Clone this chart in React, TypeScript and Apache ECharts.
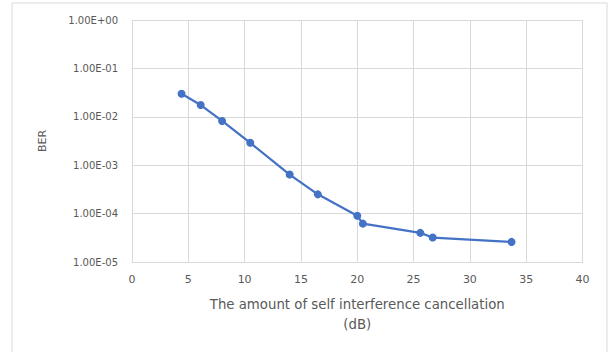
import React, { useEffect, useRef } from "react";
import * as echarts from "echarts";

const cancellationDb: number[] = [4.4, 6.1, 8, 10.5, 14, 16.5, 20, 20.5, 25.6, 26.7, 33.7];
const berValues: number[] = [0.03, 0.0175, 0.0082, 0.0029, 0.00064, 0.00025, 0.00009, 0.000062, 0.00004, 0.000032, 0.000026];
const yTickLabels: string[] = ["1.00E-05", "1.00E-04", "1.00E-03", "1.00E-02", "1.00E-01", "1.00E+00"];
const xAxisTitle = "The amount of self interference cancellation\n(dB)";
const yAxisTitle = "BER";

export default function App() {
  const ref = useRef<HTMLDivElement>(null);
  useEffect(() => {
    if (!ref.current) return;
    const chart = echarts.init(ref.current, undefined, { renderer: "svg" });
    const font = "'DejaVu Sans', 'Open Sans', sans-serif";
    const textColor = "#595959";
    const gridColor = "#d9d9d9";
    chart.setOption({
      animation: false,
      backgroundColor: "#ffffff",
      graphic: [
        {
          type: "rect",
          shape: { x: 12, y: 3, width: 595, height: 360 },
          style: { fill: "none", stroke: "#d9d9d9", lineWidth: 1 },
          silent: true,
        },
      ],
      grid: { left: 132, right: 25.5, top: 20, bottom: 90, containLabel: false },
      xAxis: {
        type: "value",
        min: 0,
        max: 40,
        interval: 5,
        name: xAxisTitle,
        nameLocation: "middle",
        nameGap: 32,
        nameTextStyle: { color: textColor, fontFamily: font, fontSize: 13.3, lineHeight: 20 },
        axisLine: { show: true, lineStyle: { color: gridColor, width: 1 } },
        axisTick: { show: false },
        axisLabel: { color: textColor, fontFamily: font, fontSize: 11, margin: 12 },
        splitLine: { show: true, lineStyle: { color: gridColor, width: 1 } },
      },
      yAxis: {
        type: "log",
        logBase: 10,
        min: 0.00001,
        max: 1,
        name: yAxisTitle,
        nameLocation: "middle",
        nameGap: 84,
        nameRotate: 90,
        nameTextStyle: { color: textColor, fontFamily: font, fontSize: 11 },
        axisLine: { show: true, lineStyle: { color: gridColor, width: 1 } },
        axisTick: { show: false },
        axisLabel: {
          color: textColor,
          fontFamily: font,
          fontSize: 10,
          margin: 14,
          formatter: (v: number) => {
            const idx = Math.round(Math.log10(v)) + 5;
            return yTickLabels[idx] ?? "";
          },
        },
        splitLine: { show: true, lineStyle: { color: gridColor, width: 1 } },
      },
      series: [
        {
          type: "line",
          data: cancellationDb.map((x, i) => [x, berValues[i]]),
          symbol: "circle",
          symbolSize: 8,
          lineStyle: { color: "#4472C4", width: 2.25 },
          itemStyle: { color: "#4472C4" },
        },
      ],
    });
    return () => chart.dispose();
  }, []);
  return (
    <div style={{ position: "absolute", left: 0, top: 0, width: 608, height: 352 }}>
      <div ref={ref} style={{ width: 608, height: 352 }} />
    </div>
  );
}
